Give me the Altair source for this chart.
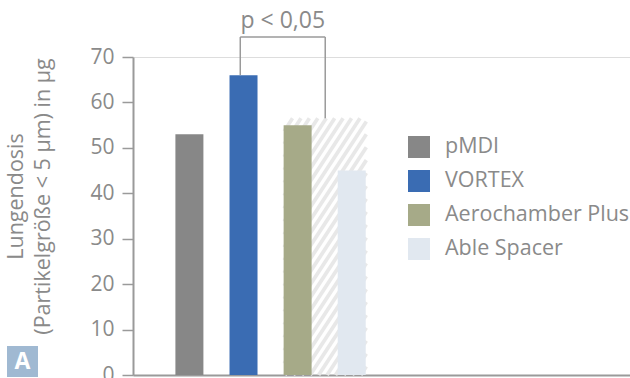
import altair as alt
import pandas as pd

# ---- data ----
categories = ["pMDI", "VORTEX", "Aerochamber Plus", "Able Spacer"]
positions = [1, 2, 3, 4]
values = [53, 66, 55, 45]
colors = ["#878787", "#3a6cb3", "#a6aa88", "#e1e8f0"]

hatch_value = 56.5          # hatched range behind Aerochamber / Able Spacer
bracket_top = 74.4
p_label = "p < 0,05"
y_ticks = [0, 10, 20, 30, 40, 50, 60, 70]
y_title = ["Lungendosis", "(Partikelgröße < 5 µm) in µg"]
panel_label = "A"

# ---- layout constants ----
W, H = 497, 318
XDOM = [0.05, 9.05]
YDOM = [0, 70]
ux = W / (XDOM[1] - XDOM[0])
uy = H / (YDOM[1] - YDOM[0])
FONT = "Open Sans"
GREY_TXT = "#8a8a8a"
GREY_LINE = "#9a9a9a"

bars = pd.DataFrame({"cat": categories, "pos": positions, "val": values})

# hatch rectangle spanning Aerochamber Plus and Able Spacer
hx0 = positions[2] - 0.25
hx1 = positions[3] + 0.27
X0 = (hx0 - XDOM[0]) * ux
X1 = (hx1 - XDOM[0]) * ux
HH = hatch_value * uy
slope = 1.5
spacing = 8.6
segs = []
c = X0 - HH / slope - spacing
while c < X1:
    xs = max(X0, c)
    xe = min(X1, c + HH / slope)
    if xs < xe:
        segs.append({
            "x": xs / ux + XDOM[0], "x2": xe / ux + XDOM[0],
            "y": slope * (xs - c) / uy, "y2": slope * (xe - c) / uy,
        })
    c += spacing
hatch = pd.DataFrame(segs)

bl = positions[1] - 0.06
br = (hx0 + hx1) / 2
bracket = pd.DataFrame({
    "x": [bl, bl, br],
    "x2": [bl, br, br],
    "y": [values[1], bracket_top, hatch_value],
    "y2": [bracket_top, bracket_top, bracket_top],
})
ptext = pd.DataFrame({"x": [(bl + br) / 2], "y": [bracket_top + 1.9], "t": [p_label]})

xscale = alt.Scale(domain=XDOM, nice=False, zero=False)
yscale = alt.Scale(domain=YDOM, nice=False)
xaxis = alt.Axis(ticks=False, labels=False, grid=False, title=None,
                 domainColor=GREY_LINE, domainWidth=2)
yaxis = alt.Axis(values=y_ticks, grid=False, title=y_title,
                 domainColor=GREY_LINE, domainWidth=2,
                 tickColor=GREY_LINE, tickWidth=1.5, tickSize=11,
                 labelFont=FONT, labelFontSize=21, labelColor=GREY_TXT,
                 labelPadding=8,
                 titleFont=FONT, titleFontSize=21.5, titleColor=GREY_TXT,
                 titleFontWeight="normal", titleLineHeight=27,
                 titleAngle=270, titleAlign="center", titleBaseline="top",
                 titleX=-128, titleY=139)

hatch_layer = alt.Chart(hatch).mark_rule(color="#e8e8e8", strokeWidth=3.7).encode(
    x=alt.X("x:Q", scale=xscale, axis=xaxis),
    x2="x2:Q",
    y=alt.Y("y:Q", scale=yscale, axis=yaxis),
    y2="y2:Q",
)

bar_layer = alt.Chart(bars).mark_bar(size=28).encode(
    x=alt.X("pos:Q", scale=xscale, axis=xaxis),
    y=alt.Y("val:Q", scale=yscale, axis=yaxis),
    color=alt.Color("cat:N", scale=alt.Scale(domain=categories, range=colors),
                    legend=alt.Legend(title=None, orient="none",
                                      legendX=275, legendY=79,
                                      symbolType="square", symbolSize=484,
                                      symbolStrokeWidth=0, symbolOpacity=1,
                                      labelFont=FONT, labelFontSize=21.5,
                                      labelColor=GREY_TXT, labelOffset=15,
                                      rowPadding=12, labelLimit=300)),
)

bracket_layer = alt.Chart(bracket).mark_rule(color=GREY_LINE, strokeWidth=1.5).encode(
    x=alt.X("x:Q", scale=xscale, axis=xaxis),
    x2="x2:Q",
    y=alt.Y("y:Q", scale=yscale, axis=yaxis),
    y2="y2:Q",
)

text_layer = alt.Chart(ptext).mark_text(font=FONT, fontSize=23, color=GREY_TXT,
                                        baseline="alphabetic", align="center").encode(
    x=alt.X("x:Q", scale=xscale, axis=xaxis),
    y=alt.Y("y:Q", scale=yscale, axis=yaxis),
    text="t:N",
)

badge_df = pd.DataFrame({"t": [panel_label]})
badge_rect = alt.Chart(badge_df).mark_rect(color="#a0b9d2").encode(
    x=alt.value(7 - 133), x2=alt.value(38 - 133),
    y=alt.value(346 - 57), y2=alt.value(377 - 57),
)
badge_text = alt.Chart(badge_df).mark_text(font=FONT, fontSize=23, fontWeight="bold",
                                           color="white", align="center",
                                           baseline="middle").encode(
    x=alt.value(22.5 - 133), y=alt.value(362 - 57), text="t:N",
)

chart = alt.layer(hatch_layer, bar_layer, bracket_layer, text_layer,
                  badge_rect, badge_text).properties(
    width=W, height=H,
    autosize=alt.AutoSizeParams(type="none"),
    padding={"left": 133, "top": 57, "right": 0, "bottom": 3},
).configure_view(stroke=None).configure(background="white")

chart.save("out.html", embed_options={"renderer": "svg", "actions": False})
